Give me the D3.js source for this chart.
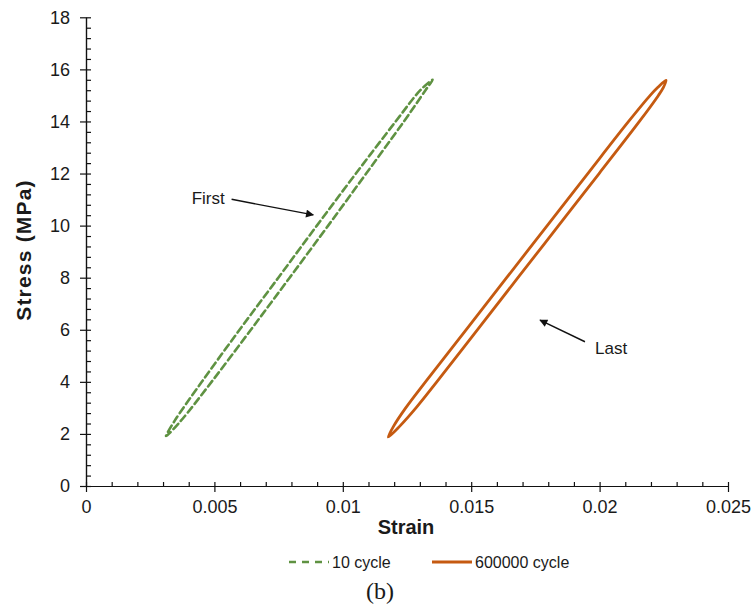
<!DOCTYPE html>
<html>
<head>
<meta charset="utf-8">
<script src="https://cdn.jsdelivr.net/npm/d3@7"></script>
<style>
  body { margin: 0; background: #fff; }
  text { font-family: "Liberation Sans", Arial, sans-serif; fill: #1a1a1a; }
</style>
</head>
<body>
<svg id="chart" width="754" height="610"></svg>
<script>
// values
const xTicks = [0, 0.005, 0.01, 0.015, 0.02, 0.025]
const yTicks = [0, 2, 4, 6, 8, 10, 12, 14, 16, 18]

// 10 cycle loop (dashed green)
const cycle10Strain = [0.00312, 0.00369, 0.00489, 0.00642, 0.00793, 0.00943, 0.01091, 0.01238, 0.01322, 0.01350,
                       0.01302, 0.01206, 0.01051, 0.00899, 0.00749, 0.00598, 0.00451, 0.00345]
const cycle10Stress = [1.92, 2.5, 4, 6, 8, 10, 12, 14, 15.2, 15.6,
                       15.2, 14, 12, 10, 8, 6, 4, 2.5]

// 600000 cycle loop (solid orange)
const cycle600kStrain = [0.01177, 0.01222, 0.01285, 0.01366, 0.01524, 0.01682, 0.01840, 0.01998, 0.02155, 0.02229, 0.02248, 0.02259,
                         0.02226, 0.02197, 0.02113, 0.01954, 0.01796, 0.01638, 0.01480, 0.01322, 0.01245, 0.01198]
const cycle600kStress = [1.88, 2.3, 3, 4, 6, 8, 10, 12, 14, 15, 15.3, 15.58,
                         15.3, 15, 14, 12, 10, 8, 6, 4, 3, 2.3]

const seriesNames = ['10 cycle', '600000 cycle']

// annotations: text position and arrow, in data units
const notes = [
  { label: 'First', tx: 0.00540, ty: 11.06, anchor: 'end', x1: 0.00567, y1: 11.01, x2: 0.00885, y2: 10.41 },
  { label: 'Last', tx: 0.01982, ty: 5.30, anchor: 'start', x1: 0.01943, y1: 5.54, x2: 0.01768, y2: 6.37 }
]

let svg = d3.select('#chart')
svg.append('rect').attr('width', 754).attr('height', 610).attr('fill', '#fff')

let x = d3.scaleLinear().domain([0, 0.025]).range([86, 728])
let y = d3.scaleLinear().domain([0, 18]).range([486, 17.3])

const green = '#5f9242'
const orange = '#c55a11'

// minor ticks (inside)
svg.append('g')
  .attr('transform', `translate(0,${y(0)})`)
  .call(d3.axisTop(x).tickValues(d3.range(0, 26).map(i => i * 0.001)).tickSize(4).tickSizeOuter(0).tickFormat(''))
svg.append('g')
  .attr('transform', `translate(${x(0)},0)`)
  .call(d3.axisRight(y).tickValues(d3.range(0, 46).map(i => i * 0.4)).tickSize(5).tickSizeOuter(0).tickFormat(''))

// major axes
svg.append('g')
  .attr('transform', `translate(0,${y(0)})`)
  .call(d3.axisBottom(x).tickValues(xTicks).tickSize(6).tickSizeOuter(0).tickPadding(8)
    .tickFormat(d => d === 0 ? '0' : String(+d.toFixed(3))))
svg.append('g')
  .attr('transform', `translate(${x(0)},0)`)
  .call(d3.axisLeft(y).tickValues(yTicks).tickSize(6).tickSizeOuter(0).tickPadding(10))

svg.selectAll('.tick line, .domain').attr('stroke', '#111').attr('stroke-width', 1.2)
svg.selectAll('.tick text').attr('font-size', 18).attr('font-family', '"Liberation Sans", Arial, sans-serif').attr('fill', '#1a1a1a')

// axis titles
svg.append('text')
  .attr('x', 406).attr('y', 534)
  .attr('text-anchor', 'middle')
  .attr('font-size', 20)
  .attr('font-weight', 'bold')
  .text('Strain')
svg.append('text')
  .attr('transform', 'translate(31,250) rotate(-90)')
  .attr('text-anchor', 'middle')
  .attr('font-size', 21)
  .attr('font-weight', 'bold')
  .attr('letter-spacing', 1.2)
  .text('Stress (MPa)')

// loops
let line = d3.line()
  .x(d => x(d[0]))
  .y(d => y(d[1]))
  .curve(d3.curveCatmullRomClosed.alpha(0.5))

svg.append('path')
  .datum(d3.zip(cycle10Strain, cycle10Stress))
  .attr('d', line)
  .attr('fill', 'none')
  .attr('stroke', green)
  .attr('stroke-width', 2.6)
  .attr('stroke-dasharray', '7,4')
  .attr('stroke-linecap', 'round')

svg.append('path')
  .datum(d3.zip(cycle600kStrain, cycle600kStress))
  .attr('d', line)
  .attr('fill', 'none')
  .attr('stroke', orange)
  .attr('stroke-width', 2.8)

// arrows
svg.append('defs').append('marker')
  .attr('id', 'head')
  .attr('viewBox', '0 0 10 10')
  .attr('refX', 9).attr('refY', 5)
  .attr('markerWidth', 10).attr('markerHeight', 8)
  .attr('markerUnits', 'userSpaceOnUse')
  .attr('orient', 'auto')
  .append('path').attr('d', 'M0,0L10,5L0,10Z').attr('fill', '#111')

notes.forEach(n => {
  svg.append('line')
    .attr('x1', x(n.x1)).attr('y1', y(n.y1))
    .attr('x2', x(n.x2)).attr('y2', y(n.y2))
    .attr('stroke', '#111').attr('stroke-width', 1.4)
    .attr('marker-end', 'url(#head)')
  svg.append('text')
    .attr('x', x(n.tx)).attr('y', y(n.ty))
    .attr('dy', '0.35em')
    .attr('text-anchor', n.anchor)
    .attr('font-size', 17)
    .text(n.label)
})

// legend
let legend = svg.append('g')
legend.append('line')
  .attr('x1', 289).attr('x2', 329).attr('y1', 562).attr('y2', 562)
  .attr('stroke', green).attr('stroke-width', 2.6).attr('stroke-dasharray', '7,6')
legend.append('text').attr('x', 332).attr('y', 562).attr('dy', '0.35em').attr('font-size', 16).text(seriesNames[0])
legend.append('line')
  .attr('x1', 432).attr('x2', 472).attr('y1', 562).attr('y2', 562)
  .attr('stroke', orange).attr('stroke-width', 2.8)
legend.append('text').attr('x', 475).attr('y', 562).attr('dy', '0.35em').attr('font-size', 16).text(seriesNames[1])

// panel label
svg.append('text')
  .attr('x', 380).attr('y', 599)
  .attr('text-anchor', 'middle')
  .attr('font-size', 24)
  .style('font-family', '"Liberation Serif", "Times New Roman", serif')
  .text('(b)')
</script>
</body>
</html>
